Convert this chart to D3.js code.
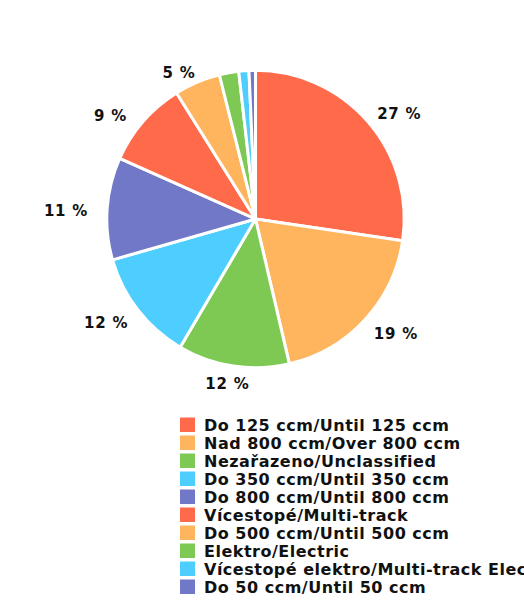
<!DOCTYPE html>
<html>
<head>
<meta charset="utf-8">
<script src="https://cdn.jsdelivr.net/npm/d3@7"></script>
<style>
  html, body { margin: 0; padding: 0; background: #fff; overflow: hidden; }
  svg { display: block; }
</style>
</head>
<body>
<div id="chart"></div>
<script>
const categories = [
  "Do 125 ccm/Until 125 ccm",
  "Nad 800 ccm/Over 800 ccm",
  "Nezařazeno/Unclassified",
  "Do 350 ccm/Until 350 ccm",
  "Do 800 ccm/Until 800 ccm",
  "Vícestopé/Multi-track",
  "Do 500 ccm/Until 500 ccm",
  "Elektro/Electric",
  "Vícestopé elektro/Multi-track Electric",
  "Do 50 ccm/Until 50 ccm"
];
const values = [27.3, 19.0, 12.1, 12.1, 11.1, 9.4, 5.0, 2.1, 1.1, 0.7];
const palette = ["#FF6A4B", "#FFB45E", "#7DC954", "#4ECEFF", "#7178C8"];

const W = 524, H = 609;
const cx = 255.5, cy = 219, R = 148.7;

const svg = d3.select("#chart").append("svg")
  .attr("width", W).attr("height", H)
  .attr("viewBox", `0 0 ${W} ${H}`);

const color = d3.scaleOrdinal().domain(d3.range(categories.length))
  .range(palette);

const data = categories.map((c, i) => ({ name: c, value: values[i], i }));
const pie = d3.pie().sort(null).value(d => d.value);
const arcs = pie(data);
const arc = d3.arc().innerRadius(0).outerRadius(R);

const g = svg.append("g").attr("transform", `translate(${cx},${cy})`);
g.selectAll("path.slice").data(arcs).join("path")
  .attr("class", "slice")
  .attr("d", arc)
  .attr("fill", d => color(d.data.i))
  .attr("stroke", "#fff")
  .attr("stroke-width", 3)
  .attr("stroke-linejoin", "round");

// percentage labels
const total = d3.sum(values);
const labelR = R + 12;
g.selectAll("text.pct").data(arcs.filter(d => d.data.value / total * 100 >= 4.5)).join("text")
  .attr("class", "pct")
  .text(d => Math.round(d.data.value / total * 100) + " %")
  .attr("font-family", "DejaVu Sans, Verdana, sans-serif")
  .attr("font-weight", "bold")
  .attr("font-size", 15)
  .attr("letter-spacing", 0.8)
  .attr("fill", "#111")
  .each(function(d) {
    const a = (d.startAngle + d.endAngle) / 2;
    const s = Math.sin(a), c = Math.cos(a);
    let x = labelR * s, y = -labelR * c;
    let anchor = "middle";
    if (s > 0.2) anchor = "start";
    else if (s < -0.2) {
      anchor = "end";
      if (c >= 0) x += (s < -0.6 ? -7 : 3);
    }
    else x -= 4;
    let dy = c >= 0 ? 5.5 + 2.5 * Math.abs(s) * (s < 0 ? 1 : 0) : 11;
    d3.select(this).attr("x", x).attr("y", y + dy).attr("text-anchor", anchor);
  });

// legend
const legend = svg.append("g").attr("transform", "translate(180,417.5)");
const rowH = 18;
const rows = legend.selectAll("g.row").data(data).join("g")
  .attr("class", "row")
  .attr("transform", (d, i) => `translate(0,${i * rowH})`);
rows.append("rect")
  .attr("width", 15).attr("height", 14.5)
  .attr("fill", d => color(d.i));
rows.append("text")
  .attr("x", 24).attr("y", 13.3)
  .attr("font-family", "DejaVu Sans, Verdana, sans-serif")
  .attr("font-weight", "bold")
  .attr("font-size", 16)
  .attr("letter-spacing", 0.5)
  .attr("fill", "#111")
  .text(d => d.name);
</script>
</body>
</html>
